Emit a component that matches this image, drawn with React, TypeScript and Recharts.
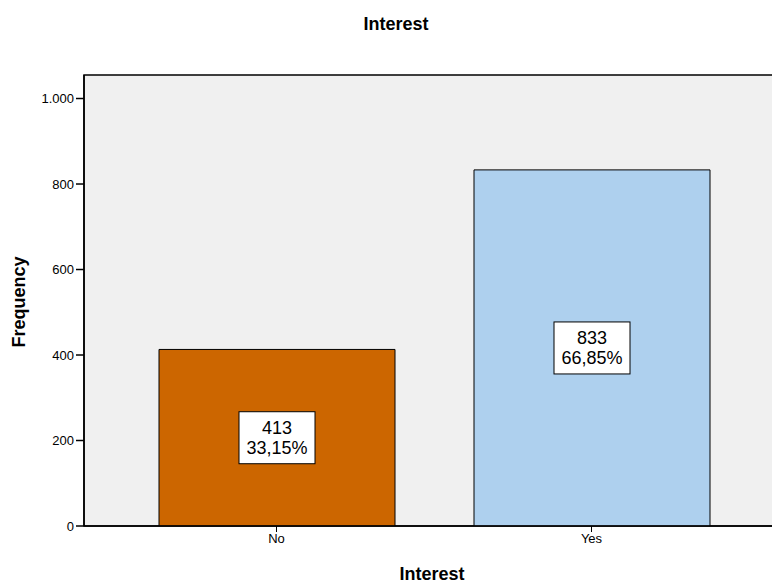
import React from "react";
import { BarChart, Bar, XAxis, YAxis, Cell, LabelList } from "recharts";

const categories = ["No", "Yes"];
const counts = [413, 833];
const percents = ["33,15%", "66,85%"];
const yTicks = [0, 200, 400, 600, 800, 1000];

const BAR_COLORS = ["#cc6600", "#aed0ee"];
const FONT = "'Liberation Sans', Arial, sans-serif";

const data = categories.map((name, i) => ({
  name,
  count: counts[i],
  pct: percents[i],
}));

const formatTick = (v: number) =>
  v >= 1000 ? `${Math.floor(v / 1000)}.${String(v % 1000).padStart(3, "0")}` : String(v);

function BoxLabel(props: any) {
  const { x, y, width, height, index } = props;
  const cx = x + width / 2;
  const cy = y + height / 2;
  const w = 76;
  const h = 52;
  return (
    <g>
      <rect
        x={cx - w / 2}
        y={cy - h / 2}
        width={w}
        height={h}
        fill="#ffffff"
        stroke="#000000"
        strokeWidth={1}
      />
      <text x={cx} y={cy - 4} textAnchor="middle" fontSize={18} fontFamily={FONT} fill="#000">
        {counts[index]}
      </text>
      <text x={cx} y={cy + 16} textAnchor="middle" fontSize={18} fontFamily={FONT} fill="#000">
        {percents[index]}
      </text>
    </g>
  );
}

export default function App() {
  return (
    <div
      style={{
        position: "absolute",
        left: 0,
        top: 0,
        width: 772,
        height: 583,
        overflow: "hidden",
        background: "#ffffff",
        fontFamily: FONT,
      }}
    >
      <svg
        width={772}
        height={583}
        style={{ position: "absolute", left: 0, top: 0, pointerEvents: "none", zIndex: 2 }}
      >
        <text x={396} y={30} textAnchor="middle" fontSize={18} fontWeight="bold" fontFamily={FONT}>
          Interest
        </text>
        <text x={432} y={580} textAnchor="middle" fontSize={18} fontWeight="bold" fontFamily={FONT}>
          Interest
        </text>
        <text
          x={25}
          y={302}
          textAnchor="middle"
          fontSize={18}
          fontWeight="bold"
          fontFamily={FONT}
          transform="rotate(-90 25 302)"
        >
          Frequency
        </text>
      </svg>
      <div style={{ position: "absolute", left: 0, top: 0 }}>
        <BarChart
          width={790}
          height={583}
          data={data}
          margin={{ top: 75, right: 0, bottom: 0, left: 0 }}
        >
          <rect x={84} y={75} width={720} height={451} fill="#f0f0f0" stroke="#000" strokeWidth={1.5} />
          <XAxis
            dataKey="name"
            height={57}
            padding={{ left: 35, right: 41 }}
            axisLine={{ stroke: "#000", strokeWidth: 1.5 }}
            tickLine={{ stroke: "#000" }}
            tickSize={6}
            tick={{ fontSize: 13, fill: "#000", fontFamily: FONT }}
          />
          <YAxis
            width={84}
            domain={[0, 1055]}
            ticks={yTicks}
            tickFormatter={formatTick}
            axisLine={{ stroke: "#000", strokeWidth: 1.5 }}
            tickLine={{ stroke: "#000", strokeWidth: 1.5 }}
            tickSize={8}
            tick={{ fontSize: 13, fill: "#000", fontFamily: FONT }}
            allowDataOverflow
          />
          <Bar dataKey="count" barSize={236} stroke="#000" strokeWidth={1} isAnimationActive={false}>
            {data.map((d, i) => (
              <Cell key={d.name} fill={BAR_COLORS[i]} />
            ))}
            <LabelList dataKey="count" content={<BoxLabel />} />
          </Bar>
        </BarChart>
      </div>
    </div>
  );
}
